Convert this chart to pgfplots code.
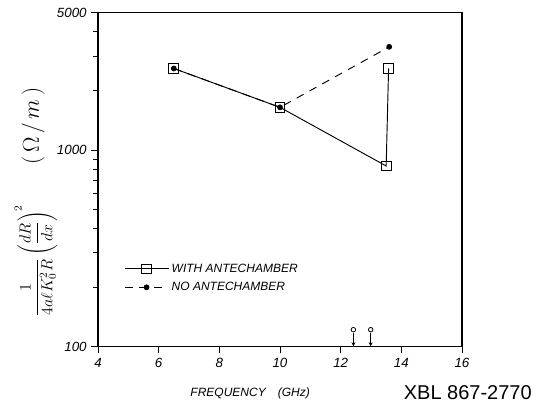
\documentclass[border=0pt]{standalone}
\usepackage{pgfplots}
\pgfplotsset{compat=1.18}
\usepackage{fontspec}
\setmainfont{Liberation Sans}
\usetikzlibrary{arrows.meta}

\begin{document}
\begin{tikzpicture}
\begin{semilogyaxis}[
    at={(0,0)}, anchor=south west,
    scale only axis,
    width=273pt, height=250.5pt,
    clip=false,
    xmin=4, xmax=16,
    ymin=100, ymax=5000,
    xtick={4,6,...,16},
    xticklabels={4,6,8,10,12,14,16},
    ytick={100,1000,5000},
    yticklabels={100,1000,5000},
    minor ytick={200,300,400,500,600,700,800,900,2000,3000,4000},
    tick label style={font=\fontsize{10}{10}\selectfont\itshape},
    tick align=outside,
    xtick pos=bottom, ytick pos=left,
    major tick length=5pt, minor tick length=4pt,
    axis line style={line width=0.9pt},
    every tick/.style={line width=0.7pt, black},
    xlabel={\itshape FREQUENCY\quad(GHz)},
    xlabel style={at={(axis description cs:0.418,-0.139)}, anchor=center, font=\small},
    legend style={draw=none, fill=none, at={(axis description cs:0.06,0.265)}, anchor=north west,
        font=\itshape\small, row sep=2pt},
    legend cell align=left,
    legend image code/.code={\draw[mark repeat=2,mark phase=2,#1] plot coordinates {(0cm,0cm) (0.58cm,0cm) (1.16cm,0cm)};},
]

\addplot[black, line width=0.7pt, mark=square, mark size=3.7pt, mark options={solid, fill=none}]
    coordinates {
        (6.5, 2600) (10, 1650) (13.5, 830) (13.58, 2600)
    };

\addplot[black, line width=0.7pt, dash pattern=on 6pt off 5pt, mark=*, mark size=1.8pt,
    mark options={solid}]
    coordinates {
        (6.5, 2600) (10, 1650) (13.6, 3350)
    };

\legend{WITH ANTECHAMBER, NO ANTECHAMBER}

% upper limits near the bottom of the axis
\addplot[black, line width=0.6pt, only marks, mark=o, mark size=1.7pt, forget plot]
    coordinates {(12.42, 122) (12.99, 122)};
\addplot[black, line width=0.6pt, -{Stealth[length=3pt,width=3pt]}, forget plot]
    coordinates {(12.42, 117) (12.42, 100.5)};
\addplot[black, line width=0.6pt, -{Stealth[length=3pt,width=3pt]}, forget plot]
    coordinates {(12.99, 117) (12.99, 100.5)};

\node[rotate=90, font=\large] at (axis description cs:-0.170,0.257)
    {$\displaystyle\frac{1}{4a\ell K_0^2R}\left(\frac{dR}{dx}\right)^{2}$};
\node[rotate=90, font=\LARGE] at (axis description cs:-0.178,0.66)
    {$(\,\Omega\,/\,m\,)$};
\node[font=\fontsize{15}{15}\selectfont] at (axis description cs:1.016,-0.139) {XBL 867-2770};
\end{semilogyaxis}
\pgfresetboundingbox
\path[use as bounding box] (-73.5pt,-49pt) rectangle (333.75pt,260pt);
\end{tikzpicture}
\end{document}
